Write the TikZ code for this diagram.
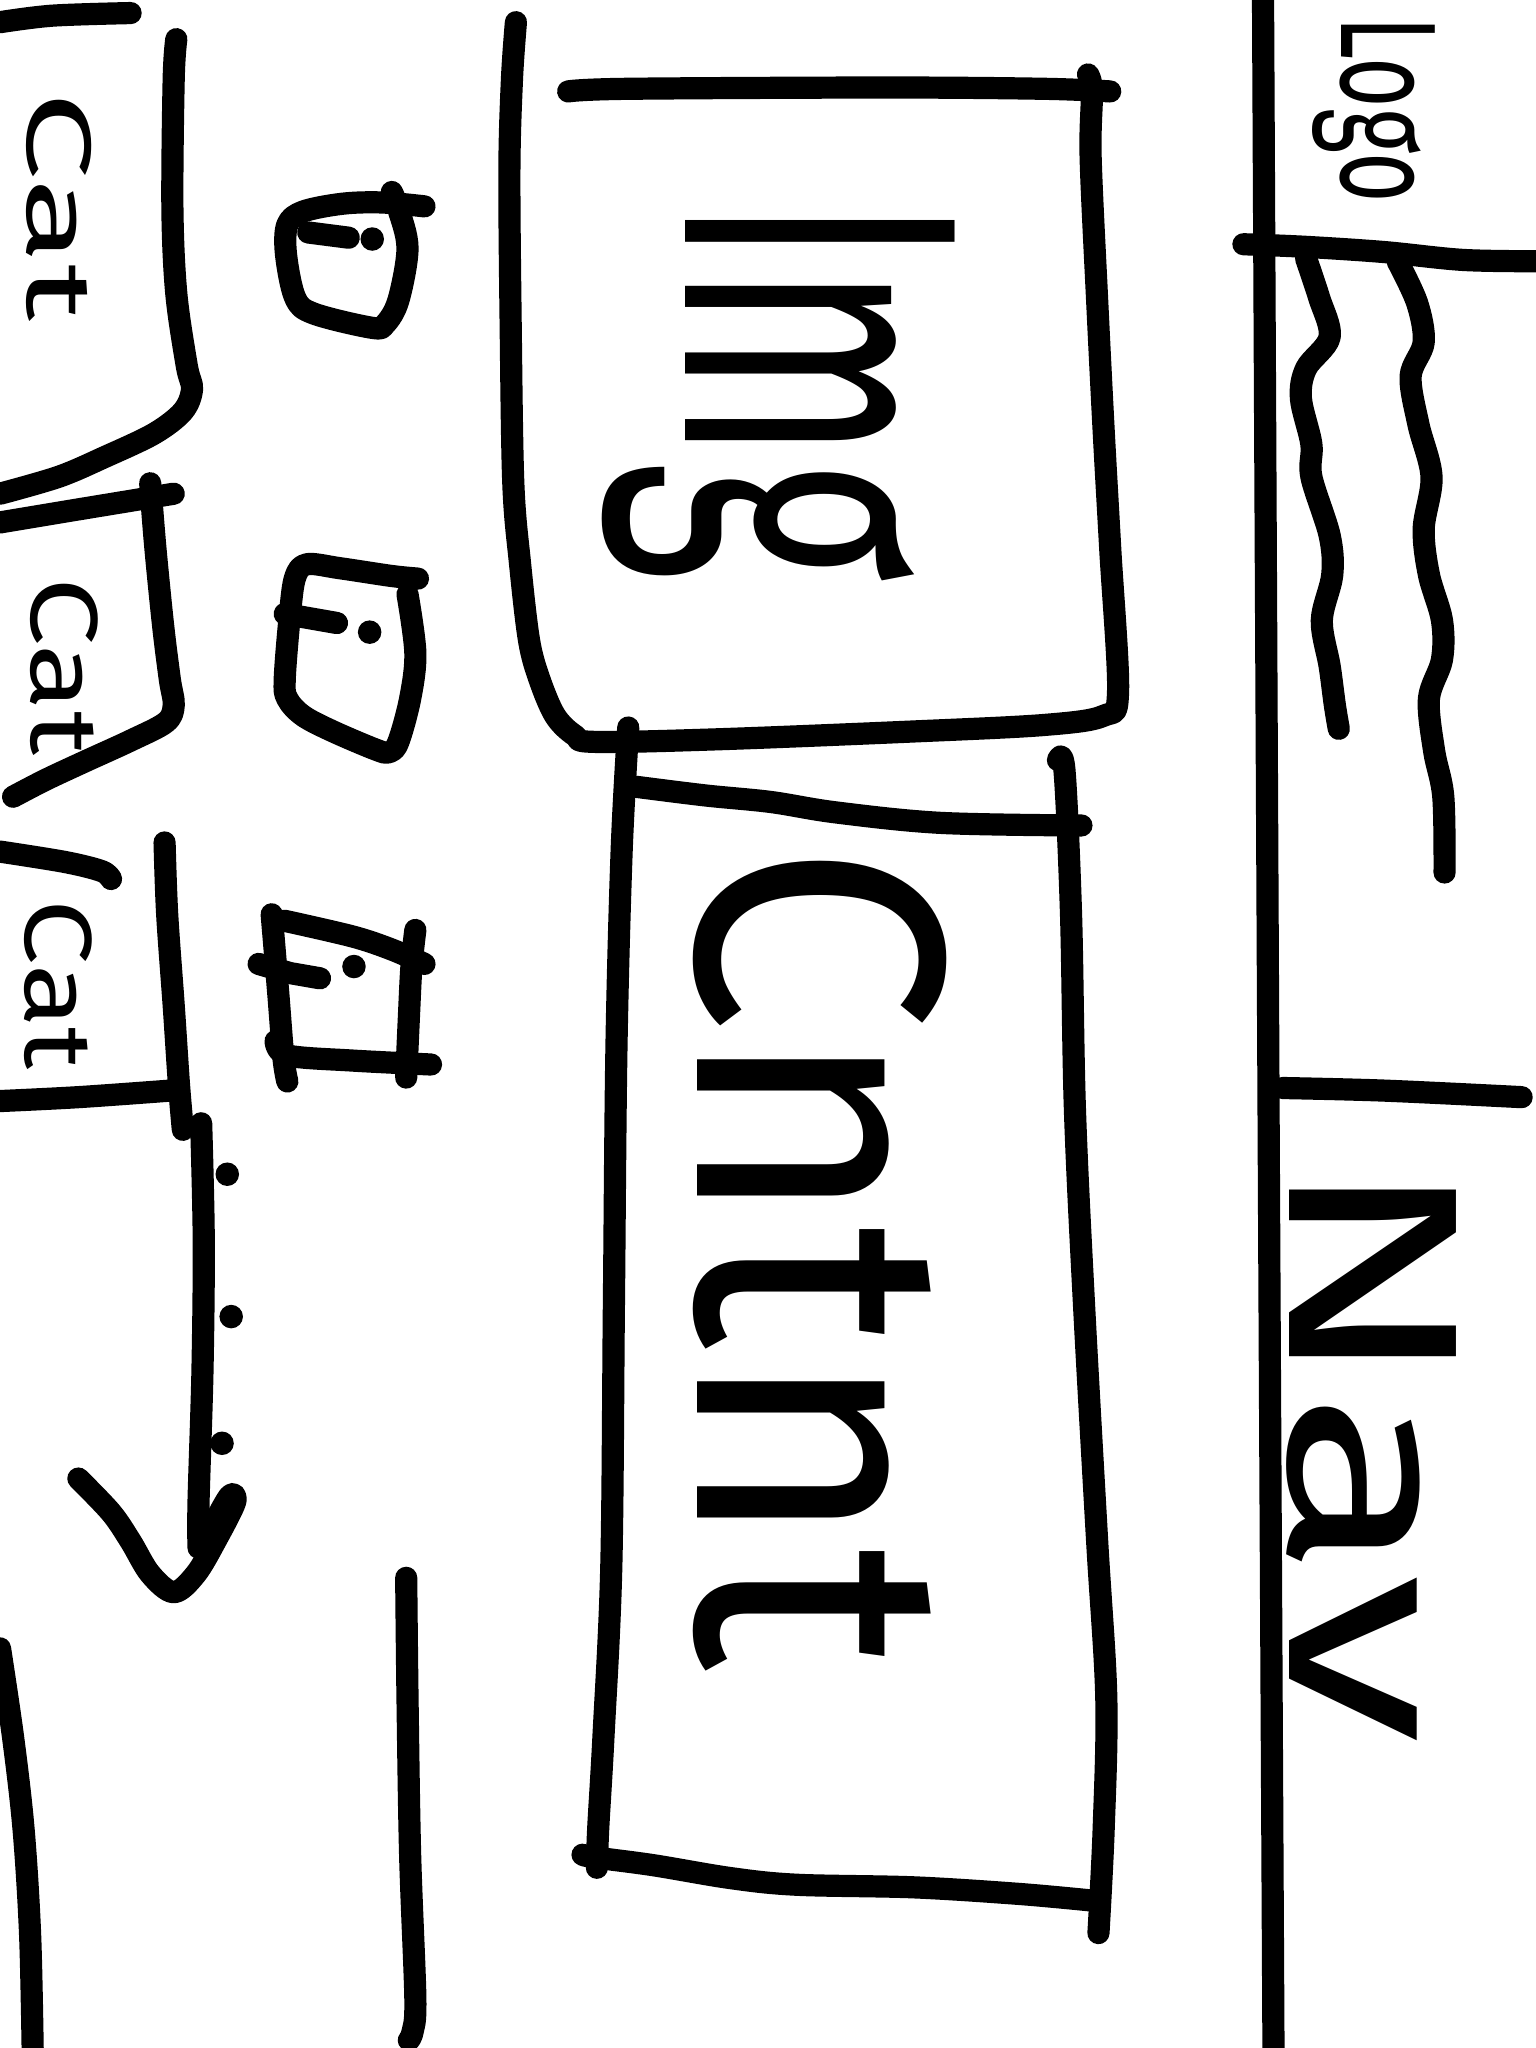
\documentclass[tikz,border=0pt]{standalone}
\usepackage{fontspec}
\setmainfont{Fira Sans}
\usepackage{graphicx}
\begin{document}
\begin{tikzpicture}[x=0.5pt,y=-0.5pt,
  ink/.style={line width=8.5pt,line cap=round,line join=round},
  word/.style={inner sep=0pt,outer sep=0pt,rotate=-90},
  sm/.style={smooth,tension=0.55}]
\useasboundingbox[fill=white] (0,0) rectangle (1176,1568);

% ---------------- left column: category cards ----------------
\draw[ink] plot[sm] coordinates {(0,17) (40,12) (100,10)};
\draw[ink] plot[sm] coordinates {(135,30) (133,60) (132,160) (135,225) (143,280) (147,298) (140,315) (118,332) (80,350) (45,365) (0,378)};
\node[word] (cat1) at (45,158) {\resizebox*{88pt}{25pt}{Cat}};

% icon 1
\draw[ink] plot[sm] coordinates {(300,147) (305,160) (312,190) (305,230) (295,248) (285,251) (240,240) (226,228) (219,195) (220,172) (232,162) (262,156) (292,155) (325,158)};
\draw[ink] (236,178) -- (267,182);
\fill (285,183) circle[radius=4.5pt];

% card 2
\draw[ink] plot[sm] coordinates {(0,400) (60,390) (133,378)};
\draw[ink] plot[sm] coordinates {(115,370) (119,420) (125,480) (130,520) (133,540) (127,553) (100,567) (65,583) (35,597) (10,610)};
\node[word] (cat2) at (49,510) {\resizebox*{68pt}{26pt}{Cat}};

% icon 2
\draw[ink] plot[sm] coordinates {(320,443) (300,441) (260,435) (235,432) (226,442) (222,470) (218,520) (220,535) (232,548) (255,560) (288,574) (298,576) (305,568) (314,535) (318,500) (312,455)};
\draw[ink] (218,470) -- (258,477);
\fill (283,484) circle[radius=4.5pt];

% card 3
\draw[ink] plot[sm] coordinates {(0,652) (50,660) (78,667) (85,673)};
\draw[ink] plot[sm] coordinates {(126,645) (128,700) (133,770) (137,830) (140,865)};
\draw[ink] plot[sm] coordinates {(0,843) (60,840) (130,835)};
\node[word] (cat3) at (45,754) {\resizebox*{65pt}{26pt}{Cat}};

% icon 3
\draw[ink] plot[sm] coordinates {(208,700) (213,760) (217,810) (220,828)};
\draw[ink] plot[sm] coordinates {(218,705) (270,717) (300,727) (325,738)};
\draw[ink] plot[sm] coordinates {(318,712) (315,740) (313,780) (311,825)};
\draw[ink] plot[sm] coordinates {(211,797) (220,808) (270,812) (330,815)};
\draw[ink] (198,738) -- (222,745) -- (245,749);
\fill (271,740) circle[radius=4.5pt];

% scroll arrow and dots
\draw[ink] plot[sm] coordinates {(154,860) (156,950) (155,1050) (152,1150) (152,1185)};
\draw[ink] plot[sm] coordinates {(60,1132) (85,1158) (100,1180) (115,1205) (133,1219) (150,1205) (166,1178) (180,1150) (176,1145) (163,1168) (156,1186)};
\fill (174,899) circle[radius=4.5pt];
\fill (177,1008) circle[radius=4.5pt];
\fill (170,1105) circle[radius=4.5pt];

% bottom left strokes
\draw[ink] plot[sm] coordinates {(0,1262) (10,1330) (18,1400) (23,1480) (25,1568)};
\draw[ink] plot[sm] coordinates {(311,1208) (312,1300) (314,1420) (318,1530) (316,1555) (313,1562)};

% ---------------- middle: image box ----------------
\draw[ink] plot[sm] coordinates {(435,70) (480,68) (680,67) (800,68) (850,70)};
\draw[ink] plot[sm] coordinates {(833,57) (836,70) (835,120) (840,230) (845,330) (850,420) (856,530) (845,548) (800,555) (700,560) (550,566) (455,568) (440,563) (425,548) (413,520) (405,490) (398,430) (393,370) (391,250) (390,130) (392,60) (395,17)};
\node[word] (img) at (596,298) {\resizebox*{147pt}{135pt}{Img}};

% ---------------- middle: content box ----------------
\draw[ink] plot[sm] coordinates {(481,557) (476,650) (472,800) (470,1000) (468,1200) (462,1330) (458,1400) (457,1430)};
\draw[ink] plot[sm] coordinates {(484,602) (540,609) (590,614) (640,622) (720,630) (828,632)};
\draw[ink] plot[sm] coordinates {(810,582) (815,590) (820,700) (823,850) (830,1000) (840,1180) (847,1300) (845,1400) (841,1480)};
\draw[ink] plot[sm] coordinates {(446,1420) (455,1422) (500,1428) (560,1438) (610,1443) (700,1445) (780,1450) (835,1455)};
\node[word] (cntnt) at (628,962) {\resizebox*{317pt}{97pt}{Cntnt}};

% ---------------- right: header and nav ----------------
\draw[ink] plot[sm] coordinates {(967,0) (969,400) (972,1000) (975,1568)};
\draw[ink] plot[sm] coordinates {(952,187) (1000,189) (1060,193) (1120,199) (1176,200)};
\node[word] (logo) at (1052,84) {\resizebox*{71pt}{47pt}{Logo}};
\draw[ink] plot[sm] coordinates {(1000,198) (1010,228) (1018,258) (1000,282) (996,305) (1004,340) (1004,365) (1018,410) (1020,440) (1012,475) (1018,510) (1022,540) (1025,558)};
\draw[ink] plot[sm] coordinates {(1070,200) (1085,232) (1090,262) (1080,288) (1086,325) (1096,365) (1090,405) (1094,440) (1104,475) (1104,505) (1094,535) (1098,575) (1105,610) (1106,668)};
\draw[ink] plot[sm] coordinates {(982,833) (1060,835) (1165,840)};
\node[word] (nav) at (1050,1110) {\resizebox*{225pt}{65pt}{Nav}};
\end{tikzpicture}
\end{document}
